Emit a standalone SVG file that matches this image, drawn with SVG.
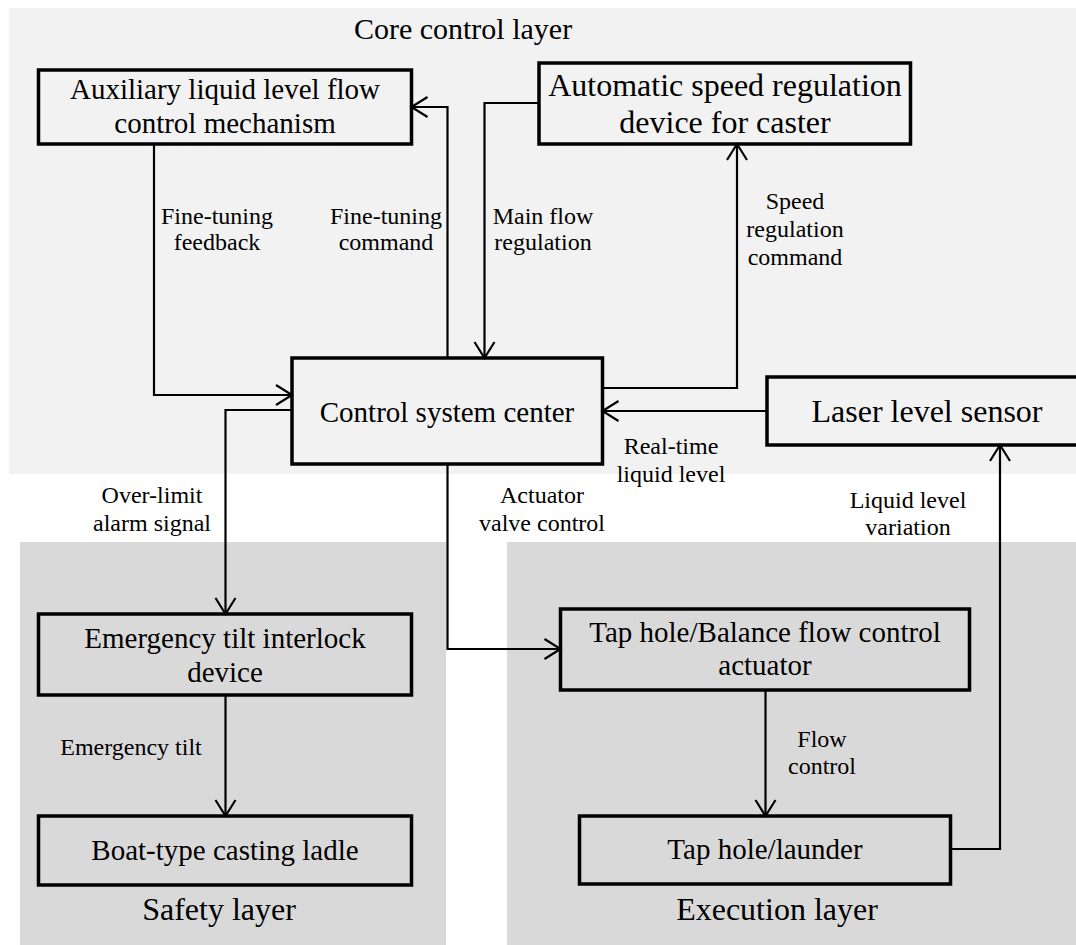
<svg xmlns="http://www.w3.org/2000/svg" width="1076" height="945" viewBox="0 0 1076 945">
<style>
text{font-family:"Liberation Serif","Times New Roman",serif;fill:#000;text-anchor:middle}
.node{font-size:29px}
.big{font-size:32px}
.lbl{font-size:24px}
.layer{font-size:32px}
.box{fill:none;stroke:#000;stroke-width:3.5}
.con{fill:none;stroke:#000;stroke-width:2.2;marker-end:url(#arr)}
</style>
<defs>
<marker id="arr" markerUnits="userSpaceOnUse" markerWidth="22" markerHeight="26" refX="19" refY="13" orient="auto">
<path d="M3,3 L19,13 L3,23" fill="none" stroke="#000" stroke-width="2.2"/>
</marker>
</defs>
<rect width="1076" height="945" fill="#fff"/>
<g id="layers">
<rect x="9" y="8" width="1067" height="466" fill="#f2f2f2"/>
<rect x="20" y="542" width="426" height="403" fill="#d9d9d9"/>
<rect x="507" y="542" width="569" height="403" fill="#d9d9d9"/>
<text class="layer" x="463" y="39" style="font-size:30px">Core control layer</text>
<text class="layer" x="219" y="920">Safety layer</text>
<text class="layer" x="777" y="920">Execution layer</text>
</g>
<g id="connectors">
<path class="con" d="M154,144 V395 H292"/>
<path class="con" d="M447.5,358 V107 H411.5"/>
<path class="con" d="M539,103 H484.5 V358"/>
<path class="con" d="M602.5,388 H737 V144"/>
<path class="con" d="M767,411 H602.5"/>
<path class="con" d="M292,410 H225.5 V614"/>
<path class="con" d="M447.5,464 V649 H560.5"/>
<path class="con" d="M225.5,695 V816"/>
<path class="con" d="M765.5,690 V816"/>
<path class="con" d="M950.5,849 H1000 V445"/>
<text class="lbl" x="217" y="224">Fine-tuning</text>
<text class="lbl" x="217" y="250">feedback</text>
<text class="lbl" x="386" y="224">Fine-tuning</text>
<text class="lbl" x="386" y="250">command</text>
<text class="lbl" x="543" y="224">Main flow</text>
<text class="lbl" x="543" y="250">regulation</text>
<text class="lbl" x="795" y="209">Speed</text>
<text class="lbl" x="795" y="237">regulation</text>
<text class="lbl" x="795" y="265">command</text>
<text class="lbl" x="671" y="454">Real-time</text>
<text class="lbl" x="671" y="482">liquid level</text>
<text class="lbl" x="152" y="503">Over-limit</text>
<text class="lbl" x="152" y="531">alarm signal</text>
<text class="lbl" x="542" y="503">Actuator</text>
<text class="lbl" x="542" y="531">valve control</text>
<text class="lbl" x="908" y="508">Liquid level</text>
<text class="lbl" x="908" y="535">variation</text>
<text class="lbl" x="131" y="755">Emergency tilt</text>
<text class="lbl" x="822" y="747">Flow</text>
<text class="lbl" x="822" y="774">control</text>
</g>
<g id="aux">
<rect class="box" x="38.5" y="70" width="373" height="74"/>
<text class="node" x="225" y="99">Auxiliary liquid level flow</text>
<text class="node" x="225" y="133">control mechanism</text>
</g>
<g id="auto">
<rect class="box" x="539" y="63" width="371.5" height="81"/>
<text class="big" x="725" y="96">Automatic speed regulation</text>
<text class="big" x="725" y="133">device for caster</text>
</g>
<g id="control">
<rect class="box" x="292" y="358" width="310.5" height="106"/>
<text class="node" x="447" y="422">Control system center</text>
</g>
<g id="laser">
<rect class="box" x="767" y="377" width="320" height="68"/>
<text class="big" x="927" y="422">Laser level sensor</text>
</g>
<g id="emergency">
<rect class="box" x="38.5" y="614" width="373" height="81"/>
<text class="node" x="225" y="648">Emergency tilt interlock</text>
<text class="node" x="225" y="682">device</text>
</g>
<g id="boat">
<rect class="box" x="38.5" y="816" width="373" height="69"/>
<text class="node" x="225" y="860">Boat-type casting ladle</text>
</g>
<g id="actuator">
<rect class="box" x="560.5" y="609" width="409" height="81"/>
<text class="node" x="765" y="642">Tap hole/Balance flow control</text>
<text class="node" x="765" y="675">actuator</text>
</g>
<g id="launder">
<rect class="box" x="579.5" y="816" width="371" height="68"/>
<text class="node" x="765" y="859">Tap hole/launder</text>
</g>
</svg>
